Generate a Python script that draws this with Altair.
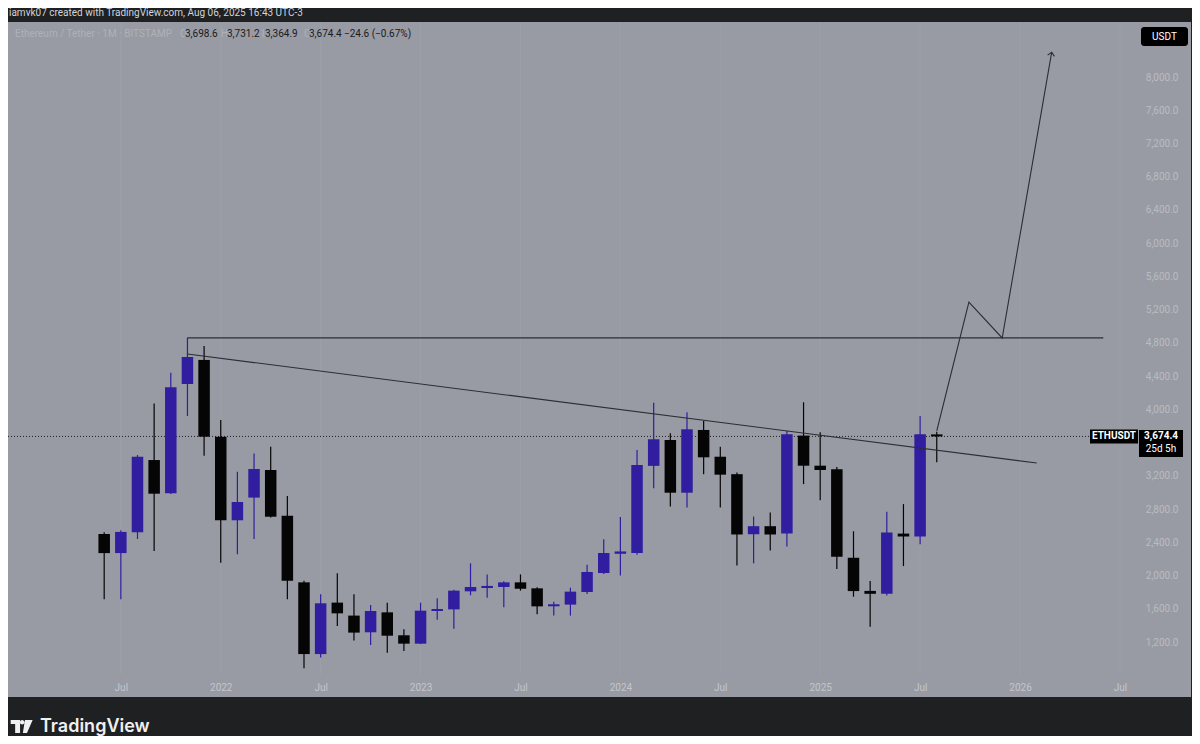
import altair as alt
import pandas as pd

# ---------------- data (monthly ETH/USDT candles, Jun 2021 .. Aug 2025) ----------------
months = ["2021-06", "2021-07", "2021-08", "2021-09", "2021-10", "2021-11", "2021-12",
          "2022-01", "2022-02", "2022-03", "2022-04", "2022-05", "2022-06", "2022-07",
          "2022-08", "2022-09", "2022-10", "2022-11", "2022-12", "2023-01", "2023-02",
          "2023-03", "2023-04", "2023-05", "2023-06", "2023-07", "2023-08", "2023-09",
          "2023-10", "2023-11", "2023-12", "2024-01", "2024-02", "2024-03", "2024-04",
          "2024-05", "2024-06", "2024-07", "2024-08", "2024-09", "2024-10", "2024-11",
          "2024-12", "2025-01", "2025-02", "2025-03", "2025-04", "2025-05", "2025-06",
          "2025-07", "2025-08"]
opens = [2500, 2270, 2520, 3390, 2990, 4305, 4595,
         3671, 2665, 2938, 3270, 2720, 1918, 1055,
         1674, 1518, 1317, 1557, 1281, 1180, 1573,
         1593, 1810, 1850, 1862, 1918, 1846, 1630,
         1650, 1802, 2030, 2262, 2272, 3320, 3631,
         2997, 3752, 3430, 3220, 2497, 2594, 2506,
         3684, 3322, 3278, 2214, 1815, 1781, 2505,
         2470, 3698.6]
highs = [2520, 2545, 3450, 4070, 4440, 4862, 4762,
         3872, 3250, 3470, 3550, 2958, 1938, 1774,
         2027, 1774, 1646, 1674, 1353, 1674, 1726,
         1830, 2147, 2014, 1930, 2014, 1860, 1686,
         1854, 2129, 2436, 2705, 3510, 4080, 3712,
         3965, 3860, 3550, 3240, 2710, 2760, 3740,
         4085, 3725, 3306, 2533, 1934, 2767, 2860,
         3920, 3731.2]
lows = [1715, 1715, 2440, 2295, 2980, 3920, 3443,
        2155, 2257, 2440, 2700, 1714, 884, 1015,
        1394, 1217, 1164, 1072, 1092, 1175, 1469,
        1361, 1762, 1734, 1617, 1818, 1533, 1518,
        1518, 1777, 2020, 2000, 2250, 3050, 2830,
        2818, 3218, 2818, 2122, 2147, 2300, 2348,
        3100, 2905, 2080, 1745, 1385, 1760, 2114,
        2376, 3364.9]
closes = [2270, 2525, 3430, 2985, 4265, 4630, 3671,
          2665, 2885, 3282, 2708, 1938, 1055, 1666,
          1545, 1313, 1573, 1276, 1180, 1577, 1597,
          1818, 1862, 1875, 1918, 1841, 1629, 1654,
          1806, 2043, 2271, 2290, 3330, 3640, 2997,
          3760, 3423, 3214, 2494, 2594, 2494, 3700,
          3322, 3270, 2226, 1813, 1780, 2518, 2470,
          3699.0, 3674.4]

# drawings (month index, price)
hline_k = [5, 60]
hline_p = [4860, 4860]
trend_k = [5, 56]
trend_p = [4666, 3354]
arrow_k = [50, 51.93, 53.93, 56.9]
arrow_p = [3740, 5292, 4859, 8297]

x_tick_values = [1, 7, 13, 19, 25, 31, 37, 43, 49, 55, 61]
x_tick_labels = ["Jul", "2022", "Jul", "2023", "Jul", "2024", "Jul", "2025", "Jul", "2026", "Jul"]
y_tick_values = [1200, 1600, 2000, 2400, 2800, 3200, 4000, 4400, 4800,
                 5200, 5600, 6000, 6400, 6800, 7200, 7600, 8000]

symbol_name = "Ethereum / Tether · 1M · BITSTAMP"
header_text = "iamvk07 created with TradingView.com, Aug 06, 2025 16:43 UTC-3"
countdown = "25d 5h"

# ---------------- styling ----------------
W, H = 1131, 652
DARK = "#1e2021"
PANEL = "#989ba4"
UP = "#311d9f"
DOWN = "#050505"
LINE = "#2c2e36"
FONT = "Roboto"

candles = pd.DataFrame({
    "k": list(range(len(months))),
    "month": months, "o": opens, "h": highs, "l": lows, "c": closes,
})
candles["dir"] = ["up" if c >= o else "down" for o, c in zip(opens, closes)]
candles["blo"] = candles[["o", "c"]].min(axis=1)
candles["bhi"] = candles[["o", "c"]].max(axis=1)

xs = alt.Scale(domain=[-5.476, 61.845], nice=False, zero=False)
ys = alt.Scale(domain=[815, 8662], nice=False, zero=False)

label_arr = "[" + ",".join("'%s'" % s for s in x_tick_labels) + "]"
xaxis = alt.Axis(values=x_tick_values, labelExpr=label_arr + "[round((datum.value-1)/6)]",
                 title=None, grid=False, ticks=False, domain=False, labelColor="#c3c6cc",
                 labelFontSize=10, labelFont=FONT, labelPadding=13, labelBaseline="middle",
                 labelFlush=False, labelOverlap=False, zindex=1)
yaxis = alt.Axis(values=y_tick_values, format=",.1f", orient="right", title=None, grid=False,
                 ticks=False, domain=False, labelColor="#b8bbc2", labelFontSize=10,
                 labelFont=FONT, labelAlign="right", labelPadding=39, labelOverlap=False,
                 zindex=1)


def X(f):
    return alt.X(f, type="quantitative", scale=xs, axis=xaxis)


def Y(f):
    return alt.Y(f, type="quantitative", scale=ys, axis=yaxis)


one = pd.DataFrame({"a": [0]})
col = alt.Color("dir:N", scale=alt.Scale(domain=["up", "down"], range=[UP, DOWN]), legend=None)

panel = alt.Chart(one).mark_rect(color=PANEL).encode(
    x=alt.value(0), x2=alt.value(1183), y=alt.value(0), y2=alt.value(675))

grid = alt.Chart(pd.DataFrame({"k": x_tick_values})).mark_rule(color="#9da0a9", strokeWidth=1).encode(
    x=X("k"), y=alt.value(0), y2=alt.value(H))

wicks = alt.Chart(candles).mark_rule(strokeWidth=1.2).encode(
    x=X("k"), y=Y("l"), y2="h:Q", color=col)
bodies = alt.Chart(candles).mark_bar(size=11.5).encode(
    x=X("k"), y=Y("blo"), y2="bhi:Q", color=col)

last = pd.DataFrame({"p": [closes[-1]]})
pline = alt.Chart(last).mark_rule(color="#202020", strokeDash=[1, 2], strokeWidth=1).encode(
    y=Y("p"), x=alt.value(0), x2=alt.value(1082))

hline = alt.Chart(pd.DataFrame({"k": hline_k, "p": hline_p})).mark_line(color=LINE, strokeWidth=1.1).encode(
    x=X("k"), y=Y("p"))
trend = alt.Chart(pd.DataFrame({"k": trend_k, "p": trend_p})).mark_line(color=LINE, strokeWidth=1.1).encode(
    x=X("k"), y=Y("p"))
arrow_df = pd.DataFrame({"k": arrow_k, "p": arrow_p, "i": list(range(len(arrow_k)))})
arrow = alt.Chart(arrow_df).mark_line(color=LINE, strokeWidth=1.1).encode(
    x=X("k"), y=Y("p"), order="i:O")
head = alt.Chart(pd.DataFrame({"k": [arrow_k[-1]], "p": [arrow_p[-1]]})).mark_point(
    shape="M -1 1 L 0 0 L 1 1", filled=False, color=LINE, strokeWidth=1.1, size=49, angle=10,
    opacity=1).encode(x=X("k"), y=Y("p"))


def box(path, x, size, dy=0):
    return alt.Chart(last).mark_point(shape=path, filled=True, color="#000000", opacity=1,
                                      size=size, yOffset=dy).encode(x=alt.value(x), y=Y("p"))


def txt(text, x, y=None, color="#ffffff", size=10, weight="normal", align="left", dy=0,
        font=FONT, baseline="middle"):
    m = alt.Chart(last if y is None else one).mark_text(
        text=text, align=align, baseline=baseline, color=color, fontSize=size,
        fontWeight=weight, font=font, dy=dy)
    if y is None:
        return m.encode(x=alt.value(x), y=Y("p"))
    return m.encode(x=alt.value(x), y=alt.value(y))


sym_box = box("M -1 -0.29 L 1 -0.29 L 1 0.29 L -1 0.29 Z", 1106, 48 * 48)
price_box = box("M -1 -0.614 L 1 -0.614 L 1 0.614 L -1 0.614 Z", 1153, 44 * 44, dy=7)
sym_txt = txt("ETHUSDT", 1106, color="#ffffff", weight="bold", align="center")
price_txt = txt(f"{closes[-1]:,.1f}", 1153, color="#ffffff", weight="bold", align="center")
cd_txt = txt(countdown, 1153, color="#ffffff", align="center", dy=13)

usdt_box = alt.Chart(one).mark_rect(color="#000000", cornerRadius=3).encode(
    x=alt.value(1133), x2=alt.value(1180), y=alt.value(5), y2=alt.value(24))
usdt_txt = txt("USDT", 1156.5, 14.5, color="#ffffff", size=10, align="center")

header = txt(header_text, 1, -9.3, color="#d1d4dc", size=10)

chg = closes[-1] - closes[-2]
pct = chg / closes[-2] * 100
FAINT = "#aeb1b9"
VAL = "#1a1a1a"
legend = [
    txt(symbol_name, 7, 12.3, color=FAINT, size=10),
    txt("O", 172, 12.3, color=FAINT, size=10),
    txt(f"{opens[-1]:,.1f}", 177, 12.3, color=VAL, size=10),
    txt("H", 213, 12.3, color=FAINT, size=10),
    txt(f"{highs[-1]:,.1f}", 219, 12.3, color=VAL, size=10),
    txt("L", 254, 12.3, color=FAINT, size=10),
    txt(f"{lows[-1]:,.1f}", 257, 12.3, color=VAL, size=10),
    txt("C", 296, 12.3, color=FAINT, size=10),
    txt(f"{closes[-1]:,.1f}", 301, 12.3, color=VAL, size=10),
    txt(f"{chg:.1f} ({pct:.2f}%)".replace("-", "−"), 336, 12.3, color=VAL, size=10),
]

logo = alt.Chart(one).mark_point(
    shape=("M -1 -0.6 L -0.145 -0.6 L -0.145 0.6 L -0.59 0.6 L -0.59 -0.23 L -1 -0.23 Z "
           "M -0.161 -0.378 A 0.207 0.207 0 1 0 0.253 -0.378 A 0.207 0.207 0 1 0 -0.161 -0.378 Z "
           "M 0.30 -0.6 L 1 -0.6 L 0.485 0.6 L 0.11 0.6 Z"),
    filled=True, color="#f0f0f0", opacity=1, size=22 * 22).encode(
    x=alt.value(13.65), y=alt.value(704.5))
logo_txt = txt("TradingView", 32, 710, color="#f0f0f0", size=18, weight=600, font="Inter",
               baseline="alphabetic")

chart = alt.layer(
    panel, grid, pline, wicks, bodies, hline, trend, arrow, head,
    sym_box, price_box, sym_txt, price_txt, cd_txt, usdt_box, usdt_txt,
    header, *legend, logo, logo_txt,
).properties(
    width=W, height=H,
    autosize=alt.AutoSizeParams(type="none"),
    padding={"left": 0, "top": 14, "right": 53, "bottom": 62},
    background=DARK,
).configure_view(strokeWidth=0)

chart.save("out.html", embed_options={"renderer": "svg", "actions": False})
